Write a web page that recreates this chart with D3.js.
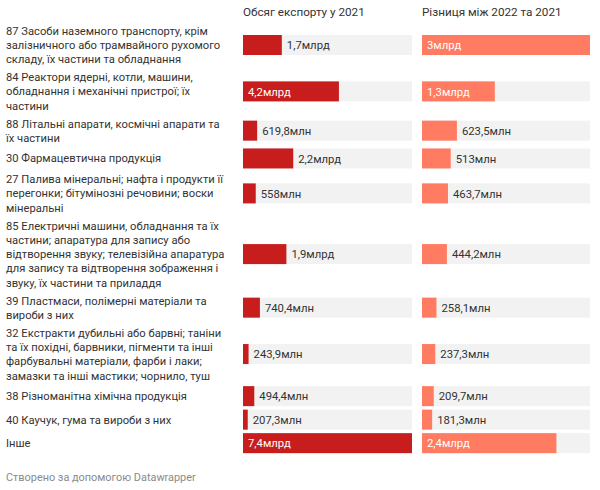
<!DOCTYPE html>
<html><head><meta charset="utf-8">
<script src="https://cdn.jsdelivr.net/npm/d3@7"></script>
<style>
body{margin:0;background:#fff;font-family:Roboto,"Noto Sans",sans-serif;}
</style></head>
<body><svg id="c" width="600" height="490"></svg>
<script>
// category labels, one entry per line as wrapped in the original
const categories = [
 ["87 Засоби наземного транспорту, крім", "залізничного або трамвайного рухомого", "складу, їх частини та обладнання"],
 ["84 Реактори ядерні, котли, машини,", "обладнання і механічні пристрої; їх", "частини"],
 ["88 Літальні апарати, космічні апарати та", "їх частини"],
 ["30 Фармацевтична продукція"],
 ["27 Палива мінеральні; нафта і продукти її", "перегонки; бітумінозні речовини; воски", "мінеральні"],
 ["85 Електричні машини, обладнання та їх", "частини; апаратура для запису або", "відтворення звуку; телевізійна апаратура", "для запису та відтворення зображення і", "звуку, їх частини та приладдя"],
 ["39 Пластмаси, полімерні матеріали та", "вироби з них"],
 ["32 Екстракти дубильні або барвні; таніни", "та їх похідні, барвники, пігменти та інші", "фарбувальні матеріали, фарби і лаки;", "замазки та інші мастики; чорнило, туш"],
 ["38 Різноманітна хімічна продукція"],
 ["40 Каучук, гума та вироби з них"],
 ["Інше"]
];
// values in millions
const export2021 = [1700, 4200, 619.8, 2200, 558, 1900, 740.4, 243.9, 494.4, 207.3, 7400];
const diff2022 = [3000, 1300, 623.5, 513, 463.7, 444.2, 258.1, 237.3, 209.7, 181.3, 2400];
const columnTitles = ["Обсяг експорту у 2021", "Різниця між 2022 та 2021"];
const footer = "Створено за допомогою Datawrapper";

const svg = d3.select("#c");
const FONT = "Roboto, 'Noto Sans', sans-serif";
const LFS = 11.2, VFS = 11.3, HFS = 11.7;
const f1 = d3.format(".1~f");
const fmt = v => v >= 1000 ? f1(v/1000).replace(".", ",") + "млрд" : f1(v).replace(".", ",") + "млн";

const LH = 14.3, PAD = 3.5, BARH = 20;
const rowH = categories.map(l => Math.max(BARH, l.length*LH) + PAD);
let y0 = 45 - rowH[0]/2;
const centers = [];
rowH.forEach(h => { centers.push(y0 + h/2); y0 += h; });

const cols = [
  {x0:243, x1:412, data: export2021, color:"#c71e1d", title: columnTitles[0]},
  {x0:422, x1:590, data: diff2022, color:"#ff7b61", title: columnTitles[1]}
];

const lg = svg.append("g");
categories.forEach((lines,i)=>{
  const top = centers[i] - lines.length*LH/2;
  const t = lg.append("text").attr("font-family",FONT).attr("font-size",LFS).attr("fill","#333");
  lines.forEach((ln,j)=>{
    t.append("tspan").attr("x",6).attr("y", top + j*LH + LH/2 + 4).text(ln);
  });
});

cols.forEach(col=>{
  const x = d3.scaleLinear().domain([0, d3.max(col.data)]).range([col.x0, col.x1]);
  svg.append("text").attr("x", col.x0).attr("y", 16).attr("font-family",FONT)
    .attr("font-size",HFS).attr("fill","#333").text(col.title);
  const g = svg.append("g");
  g.selectAll("rect.bg").data(col.data).join("rect").attr("class","bg")
    .attr("x", col.x0).attr("width", col.x1-col.x0)
    .attr("y",(d,i)=>centers[i]-BARH/2).attr("height",BARH).attr("fill","#f2f2f2");
  g.selectAll("rect.bar").data(col.data).join("rect").attr("class","bar")
    .attr("x", x(0)).attr("width", d=>x(d)-x(0))
    .attr("y",(d,i)=>centers[i]-BARH/2).attr("height",BARH).attr("fill",col.color);
  g.selectAll("text.v").data(col.data).join("text").attr("class","v")
    .attr("font-family",FONT).attr("font-size",VFS)
    .each(function(d,i){
      const el = d3.select(this).text(fmt(d));
      const w = this.getComputedTextLength();
      const bw = x(d)-x(0);
      const inside = w + 12 < bw;
      el.attr("x", inside ? x(0)+5 : x(d)+5)
        .attr("y", centers[i]+4.1)
        .attr("fill", inside ? "#fff" : "#333");
    });
});

svg.append("text").attr("x",6).attr("y",481).attr("font-family",FONT)
  .attr("font-size",10.9).attr("fill","#8a8a8a").text(footer);
</script></body></html>
